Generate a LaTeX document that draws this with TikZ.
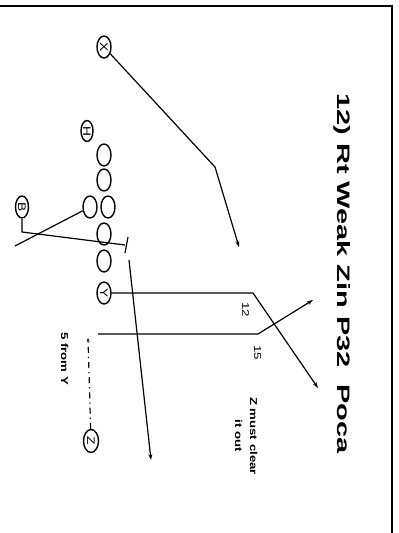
\documentclass[tikz,border=0pt]{standalone}
\usepackage{fontspec}
\setmainfont{Liberation Sans}
\usetikzlibrary{arrows.meta,shapes.geometric}
\newcommand{\mylab}[1]{\rotatebox{-90}{\scalebox{1.25}[1]{#1}}}
\begin{document}
\begin{tikzpicture}[x=1pt,y=-1pt,
  player/.style={ellipse,draw,line width=1.4pt,minimum width=14pt,minimum height=22pt,inner sep=0pt,font=\fontsize{11}{11}\selectfont},
  route/.style={line width=1.2pt},
  arr/.style={-{Stealth[length=6pt,width=4pt]}},
  smallarr/.style={-{Stealth[length=4pt,width=3pt]}},
  rtext/.style={rotate=-90,inner sep=0pt,anchor=base west},
  small/.style={font=\fontsize{10}{12}\selectfont},
  smallbf/.style={font=\bfseries\fontsize{10}{12}\selectfont},
]
\useasboundingbox (0,0) rectangle (399,533);
% border
\draw[line width=2pt] (0,6) -- (392,6);
\draw[line width=2.5pt] (392,5) -- (392,533);

% players
\node[player] (X) at (104,47) {\mylab{X}};
\node[player,minimum width=12pt,minimum height=21pt] (H) at (87,131) {\mylab{H}};
\node[player] (L1) at (104,155) {};
\node[player] (L2) at (104,180) {};
\node[player] (Q) at (90,207) {};
\node[player] (C) at (108,207) {};
\node[player] (L4) at (104,234) {};
\node[player] (L5) at (104,261) {};
\node[player] (Y) at (104,293) {\mylab{Y}};
\node[player,minimum width=13pt] (B) at (22,207) {\mylab{B}};
\node[player,minimum width=15pt,minimum height=23pt] (Z) at (91,441) {\mylab{Z}};

% coordinates
\coordinate (xb) at (215,167);
\coordinate (xe) at (239,247);
\coordinate (bk) at (22,232);
\coordinate (bE) at (125,245);
\coordinate (t1) at (128,237);
\coordinate (t2) at (125,253);
\coordinate (qE) at (15,246);
\coordinate (v1) at (129,260);
\coordinate (v2) at (151,460);
\coordinate (yb) at (253,293);
\coordinate (ye) at (318,388);
\coordinate (zm) at (88,338);
\coordinate (zs) at (98,334);
\coordinate (zb) at (258,334);
\coordinate (ze) at (313,300);

% routes
\draw[route,arr] (X) -- (xb) -- (xe);
\draw[route] (B.south) -- (bk) -- (bE);
\draw[route] (t1) -- (t2);
\draw[route] (Q) -- (qE);
\draw[route,arr] (v1) -- (v2);
\draw[route,arr] (Y) -- (yb) -- (ye);
\draw[route,smallarr,dash pattern=on 6pt off 4pt on 1.2pt off 4pt] (Z) -- (zm);
\draw[route,arr] (zs) -- (zb) -- (ze);

% texts
\node[rtext,font=\bfseries\fontsize{18}{20}\selectfont] (title) at (337,93) {\scalebox{1.61}[1]{12) Rt Weak Zin P32\ \ Poca}};
\node[rtext,small] (l12) at (242,302) {\scalebox{1.32}[1]{12}};
\node[rtext,small] (l15) at (254,345) {\scalebox{1.32}[1]{15}};
\node[rtext,smallbf] (from) at (61,332) {\scalebox{1.32}[1]{5 from Y}};
\node[rtext,smallbf,anchor=base] (zc1) at (250,436) {\scalebox{1.32}[1]{Z must clear}};
\node[rtext,smallbf,anchor=base] (zc2) at (235,436) {\scalebox{1.32}[1]{it out}};
\end{tikzpicture}
\end{document}
